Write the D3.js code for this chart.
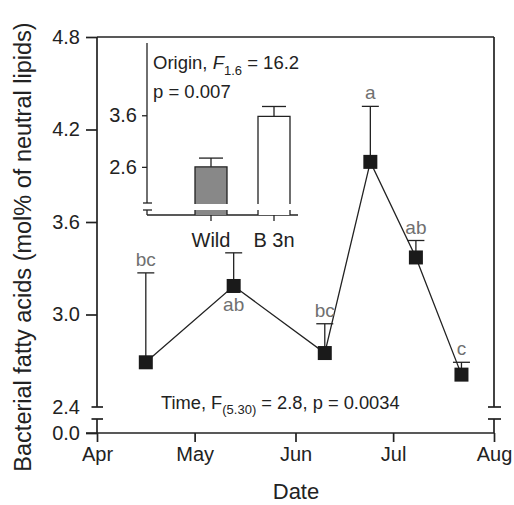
<!DOCTYPE html>
<html><head><meta charset="utf-8">
<script src="https://cdn.jsdelivr.net/npm/d3@7"></script>
<style>body{margin:0;background:#fff}svg{display:block}text{font-family:"Liberation Sans",Arial,sans-serif}</style>
</head><body>
<svg id="c" width="514" height="505"></svg>
<script>
// ---- data ----
const dates = ["2001-04-16","2001-05-13","2001-06-10","2001-06-24","2001-07-08","2001-07-22"];
const means = [2.69, 3.185, 2.75, 3.99, 3.37, 2.61];
const errTop = [3.27, 3.40, 2.94, 4.35, 3.48, 2.69];
const letters = ["bc","ab","bc","a","ab","c"];
const letterBelow = [false,true,false,false,false,false];
const yTicks = [2.4, 3.0, 3.6, 4.2, 4.8];
const xTicks = ["2001-04-01","2001-05-01","2001-06-01","2001-07-01","2001-08-01"];
const xTickLabels = ["Apr","May","Jun","Jul","Aug"];
const insetCats = ["Wild","B 3n"];
const insetMeans = [2.6, 3.58];
const insetErrTop = [2.77, 3.77];
const insetTicks = [2.6, 3.6];

const svg = d3.select("#c");
const ink = "#222";
const parse = d3.utcParse("%Y-%m-%d");
const tickFont = "20px";

const x = d3.scaleUtc().domain([parse("2001-04-01"), parse("2001-08-01")]).range([97, 494]);
const y = d3.scaleLinear().domain([2.4, 4.8]).range([407, 37]);
const yLow = d3.scaleLinear().domain([0, 0.2]).range([433, 419]);

// upper y axis
const ya = svg.append("g").attr("transform","translate(97,0)")
  .call(d3.axisLeft(y).tickValues(yTicks).tickFormat(d3.format(".1f")).tickSize(11).tickPadding(6).tickSizeOuter(0));
ya.select(".domain").remove();
ya.selectAll(".tick line").attr("stroke", ink).attr("stroke-width",1.7);
ya.selectAll(".tick text").attr("fill", ink).style("font-size",tickFont);
ya.selectAll(".tick").filter(d=>d===2.4).select("line").remove();
// lower y axis (0.0)
const yl = svg.append("g").attr("transform","translate(97,0)")
  .call(d3.axisLeft(yLow).tickValues([0]).tickFormat(d3.format(".1f")).tickSize(11).tickPadding(6).tickSizeOuter(0));
yl.select(".domain").remove();
yl.selectAll(".tick line").attr("stroke", ink).attr("stroke-width",1.7);
yl.selectAll(".tick text").attr("fill", ink).style("font-size",tickFont);

const lines = svg.append("g").attr("stroke", ink).attr("stroke-width",1.7).attr("fill","none");
function seg(x1,y1,x2,y2){ lines.append("line").attr("x1",x1).attr("y1",y1).attr("x2",x2).attr("y2",y2); }
// left axis with break
seg(97, y(4.8), 97, y(2.4)); seg(91.5, y(2.4), 103, y(2.4));
seg(97, yLow(0.2), 97, yLow(0)); seg(91.5, yLow(0.2), 103, yLow(0.2));
// top frame & right frame with break
seg(97, y(4.8), 494, y(4.8));
seg(494, y(4.8), 494, y(2.4)); seg(488, y(2.4), 501, y(2.4));
seg(494, yLow(0.2), 494, yLow(0)); seg(488, yLow(0.2), 501, yLow(0.2));

// x axis
const xa = svg.append("g").attr("transform",`translate(0,${yLow(0)})`)
  .call(d3.axisBottom(x).tickValues(xTicks.map(parse)).tickFormat((d,i)=>xTickLabels[i]).tickSize(9).tickPadding(5).tickSizeOuter(0));
xa.select(".domain").attr("stroke", ink).attr("stroke-width",1.7).attr("d","M86,0H494");
xa.selectAll(".tick line").attr("stroke", ink).attr("stroke-width",1.7);
xa.selectAll(".tick text").attr("fill", ink).style("font-size",tickFont);

// data
const pts = dates.map((d,i)=>({x:x(parse(d)), y:y(means[i]), e:y(errTop[i]), l:letters[i], b:letterBelow[i]}));
svg.append("path").datum(pts).attr("fill","none").attr("stroke",ink).attr("stroke-width",1.3)
  .attr("d", d3.line().x(d=>d.x).y(d=>d.y));
const eg = svg.append("g").attr("stroke",ink).attr("stroke-width",1.3);
pts.forEach(p=>{
  eg.append("line").attr("x1",p.x).attr("x2",p.x).attr("y1",p.y).attr("y2",p.e);
  eg.append("line").attr("x1",p.x-8.5).attr("x2",p.x+8.5).attr("y1",p.e).attr("y2",p.e);
});
svg.append("g").selectAll("rect").data(pts).join("rect")
  .attr("x",d=>d.x-7).attr("y",d=>d.y-7).attr("width",14).attr("height",14).attr("fill","#1a1a1a");
svg.append("g").selectAll("text").data(pts).join("text")
  .attr("x",d=>d.x).attr("y",d=>d.b ? d.y+25 : d.e-7).attr("text-anchor","middle")
  .attr("fill","#707070").style("font-size","19px").text(d=>d.l);

// Time annotation
const tt = svg.append("text").attr("x",161).attr("y",409).attr("fill",ink).style("font-size","18.3px");
tt.append("tspan").text("Time, F");
tt.append("tspan").attr("dy",5).style("font-size","13px").text("(5.30)");
tt.append("tspan").attr("dy",-5).text(" = 2.8, p = 0.0034");

// ---- inset ----
const iy = d3.scaleLinear().domain([1.9, 5.0]).range([203, 43]);
const iyLow = d3.scaleLinear().domain([0, 0.1]).range([215, 210]);
const icx = [211, 274];
const ia = svg.append("g").attr("transform","translate(147,0)")
  .call(d3.axisLeft(iy).tickValues(insetTicks).tickFormat(d3.format(".1f")).tickSize(5).tickPadding(5).tickSizeOuter(0));
ia.select(".domain").remove();
ia.selectAll(".tick line").attr("stroke", ink).attr("stroke-width",1.3);
ia.selectAll(".tick text").attr("fill", ink).style("font-size",tickFont);
const il = svg.append("g").attr("stroke",ink).attr("stroke-width",1.3);
il.append("line").attr("x1",147).attr("x2",147).attr("y1",iy(5.0)).attr("y2",iy(1.9));
il.append("line").attr("x1",143).attr("x2",152).attr("y1",iy(1.9)).attr("y2",iy(1.9));
il.append("line").attr("x1",147).attr("x2",147).attr("y1",iyLow(0.1)).attr("y2",iyLow(0));
il.append("line").attr("x1",143).attr("x2",152).attr("y1",iyLow(0.1)).attr("y2",iyLow(0.1));
il.append("line").attr("x1",147).attr("x2",298).attr("y1",iyLow(0)).attr("y2",iyLow(0));
// inset bars
const barW = 32;
insetCats.forEach((c,i)=>{
  const cx = icx[i];
  const fill = i===0 ? "#888888" : "#ffffff";
  const top = iy(insetMeans[i]), bot = iy(1.9)+1;
  svg.append("rect").attr("x",cx-barW/2).attr("y",top).attr("width",barW).attr("height",bot-top).attr("fill",fill);
  svg.append("path").attr("fill","none").attr("stroke",ink).attr("stroke-width",1.3)
    .attr("d",`M${cx-barW/2},${bot}V${top}H${cx+barW/2}V${bot}`);
  // lower piece
  svg.append("rect").attr("x",cx-barW/2).attr("y",iyLow(0.1)).attr("width",barW).attr("height",iyLow(0)-iyLow(0.1)).attr("fill",fill);
  svg.append("line").attr("x1",cx-barW/2).attr("x2",cx-barW/2).attr("y1",iyLow(0.1)).attr("y2",iyLow(0)).attr("stroke",ink).attr("stroke-width",1.3);
  svg.append("line").attr("x1",cx+barW/2).attr("x2",cx+barW/2).attr("y1",iyLow(0.1)).attr("y2",iyLow(0)).attr("stroke",ink).attr("stroke-width",1.3);
  // error
  svg.append("line").attr("x1",cx).attr("x2",cx).attr("y1",top).attr("y2",iy(insetErrTop[i])).attr("stroke",ink).attr("stroke-width",1.3);
  svg.append("line").attr("x1",cx-12).attr("x2",cx+12).attr("y1",iy(insetErrTop[i])).attr("y2",iy(insetErrTop[i])).attr("stroke",ink).attr("stroke-width",1.3);
  // tick & label
  svg.append("line").attr("x1",cx).attr("x2",cx).attr("y1",iyLow(0)).attr("y2",iyLow(0)+6).attr("stroke",ink).attr("stroke-width",1.3);
  svg.append("text").attr("x",cx).attr("y",iyLow(0)+32).attr("text-anchor","middle").attr("fill",ink).style("font-size",tickFont).text(c);
});
const ot = svg.append("text").attr("x",153).attr("y",69).attr("fill",ink).style("font-size","18.5px");
ot.append("tspan").text("Origin, ");
ot.append("tspan").style("font-style","italic").text("F");
ot.append("tspan").attr("dy",6).style("font-size","13px").text("1.6");
ot.append("tspan").attr("dy",-6).text(" = 16.2");
svg.append("text").attr("x",153).attr("y",98).attr("fill",ink).style("font-size","18.5px").text("p = 0.007");

// axis titles
svg.append("text").attr("transform","translate(31,247) rotate(-90)").attr("text-anchor","middle")
  .attr("fill",ink).style("font-size","23.5px").text("Bacterial fatty acids (mol% of neutral lipids)");
svg.append("text").attr("x",296).attr("y",499).attr("text-anchor","middle").attr("fill",ink).style("font-size","22px").text("Date");
</script>
</body></html>
